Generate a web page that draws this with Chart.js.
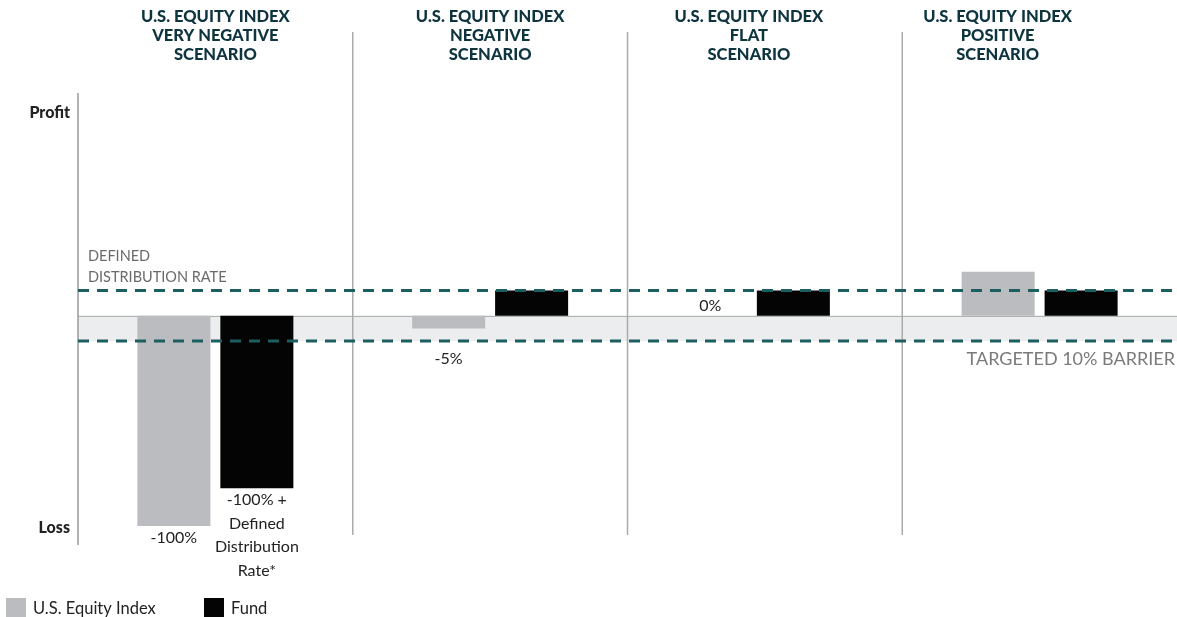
<!DOCTYPE html>
<html>
<head>
<meta charset="utf-8">
<script src="https://cdn.jsdelivr.net/npm/chart.js@4/dist/chart.umd.min.js"></script>
<style>
  html, body { margin:0; padding:0; background:#fff; }
  #wrap { width:1177px; height:617px; position:relative; }
</style>
</head>
<body>
<div id="wrap"><canvas id="chart" width="1177" height="617"></canvas></div>
<script>
// scenarios (x categories)
const scenarios = ['VERY NEGATIVE', 'NEGATIVE', 'FLAT', 'POSITIVE'];
// schematic values (relative units, not real returns)
const indexValues = [-100, -6, 0, 21];
const fundValues = [-82, 12, 12, 12];
const indexLabels = ['-100%', '-5%', '0%', ''];
const fundLabels = [['-100% +', 'Defined', 'Distribution', 'Rate*'], '', '', ''];
// reference levels
const distributionRate = 12;
const barrier = -12;

const TEAL = '#1d5f60';
const BODY = 'Lato, "Open Sans", sans-serif';

const overlay = {
  id: 'overlay',
  afterDatasetsUpdate(chart) {
    // flat scenario bar pair sits a bit left of its column centre
    const groupShift = [0, 0, -13, 0];
    chart.data.datasets.forEach((ds, di) => {
      chart.getDatasetMeta(di).data.forEach((bar, i) => { bar.x += groupShift[i]; });
    });
  },
  beforeDatasetsDraw(chart) {
    const { ctx, chartArea: a, scales: { x, y } } = chart;
    const y0 = y.getPixelForValue(0);
    const yb = y.getPixelForValue(barrier);
    ctx.save();
    // barrier band
    ctx.fillStyle = '#ecedef';
    ctx.fillRect(a.left, y0, a.right - a.left, yb - y0);
    // zero line
    ctx.strokeStyle = '#a8a8a8';
    ctx.lineWidth = 1;
    ctx.beginPath(); ctx.moveTo(a.left, y0 + 0.5); ctx.lineTo(a.right, y0 + 0.5); ctx.stroke();
    // left axis
    ctx.strokeStyle = '#9a9a9a';
    ctx.lineWidth = 1.5;
    ctx.beginPath(); ctx.moveTo(a.left, a.top); ctx.lineTo(a.left, a.bottom); ctx.stroke();
    // scenario dividers
    ctx.strokeStyle = '#ababab';
    ctx.lineWidth = 1.5;
    for (let i = 1; i < scenarios.length; i++) {
      const px = (x.getPixelForValue(i - 1) + x.getPixelForValue(i)) / 2;
      ctx.beginPath(); ctx.moveTo(px, 32); ctx.lineTo(px, a.bottom - 10); ctx.stroke();
    }
    ctx.restore();
  },
  afterDatasetsDraw(chart) {
    const { ctx, chartArea: a, scales: { x, y } } = chart;
    const y0 = y.getPixelForValue(0);
    const yb = y.getPixelForValue(barrier);
    const yd = y.getPixelForValue(distributionRate);
    ctx.save();
    // dashed reference lines
    ctx.strokeStyle = TEAL;
    ctx.lineWidth = 3;
    ctx.setLineDash([11, 8]);
    [yd, yb].forEach(py => {
      ctx.beginPath(); ctx.moveTo(a.left, py); ctx.lineTo(a.right, py); ctx.stroke();
    });
    ctx.setLineDash([]);

    // headers
    const shift = [0, 0, -16, -42];
    ctx.fillStyle = '#0e3440';
    ctx.font = '900 16.5px ' + BODY;
    ctx.textAlign = 'center';
    ctx.textBaseline = 'middle';
    scenarios.forEach((s, i) => {
      const cx = x.getPixelForValue(i) + shift[i];
      ['U.S. EQUITY INDEX', s, 'SCENARIO'].forEach((t, k) => ctx.fillText(t, cx, 17 + k * 19));
    });

    // axis end labels
    ctx.fillStyle = '#222';
    ctx.font = '900 16px ' + BODY;
    ctx.textAlign = 'right';
    ctx.fillText('Profit', 70, 113);
    ctx.fillText('Loss', 70, 528);

    // reference line captions
    ctx.fillStyle = '#6a6a6a';
    ctx.font = '14.5px ' + BODY;
    ctx.textAlign = 'left';
    ctx.fillText('DEFINED', a.left + 10, 256);
    ctx.fillText('DISTRIBUTION RATE', a.left + 10, 277);
    ctx.fillStyle = '#7a7a7a';
    ctx.font = '18px ' + BODY;
    ctx.textAlign = 'right';
    ctx.fillText('TARGETED 10% BARRIER', a.right - 2, yb + 18);

    // value labels
    ctx.fillStyle = '#222';
    ctx.font = '16px ' + BODY;
    ctx.textAlign = 'center';
    const drawLabels = (di, labels, values) => {
      chart.getDatasetMeta(di).data.forEach((bar, i) => {
        let lines = labels[i];
        if (!lines) return;
        if (!Array.isArray(lines)) lines = [lines];
        const v = values[i];
        if (v < 0) {
          const top = v > barrier ? yb + 10 : bar.y + 4;
          ctx.textBaseline = 'top';
          lines.forEach((t, k) => ctx.fillText(t, bar.x, top + k * 23.5));
        } else {
          ctx.textBaseline = 'bottom';
          ctx.fillText(lines[0], bar.x, Math.min(bar.y, y0) - 2);
        }
      });
    };
    drawLabels(0, indexLabels, indexValues);
    drawLabels(1, fundLabels, fundValues);

    // legend
    ctx.textBaseline = 'middle';
    ctx.textAlign = 'left';
    ctx.font = '16.5px ' + BODY;
    let lx = 6;
    chart.data.datasets.forEach((ds, i) => {
      ctx.fillStyle = ds.backgroundColor;
      ctx.fillRect(lx, 598, 20, 20);
      ctx.fillStyle = '#222';
      ctx.fillText(ds.label, lx + 27, 609);
      lx += 198;
    });
    ctx.restore();
  }
};

new Chart(document.getElementById('chart'), {
  type: 'bar',
  data: {
    labels: scenarios,
    datasets: [
      { label: 'U.S. Equity Index', data: indexValues, backgroundColor: '#bbbcbf',
        barPercentage: 0.88, categoryPercentage: 0.604 },
      { label: 'Fund', data: fundValues, backgroundColor: '#040404',
        barPercentage: 0.88, categoryPercentage: 0.604 }
    ]
  },
  options: {
    responsive: false,
    animation: false,
    layout: { padding: { left: 78, right: 0, top: 93, bottom: 72 } },
    plugins: { legend: { display: false }, tooltip: { enabled: false } },
    scales: {
      x: { display: false },
      y: { display: false, min: -109, max: 106 }
    }
  },
  plugins: [overlay]
});
</script>
</body>
</html>
